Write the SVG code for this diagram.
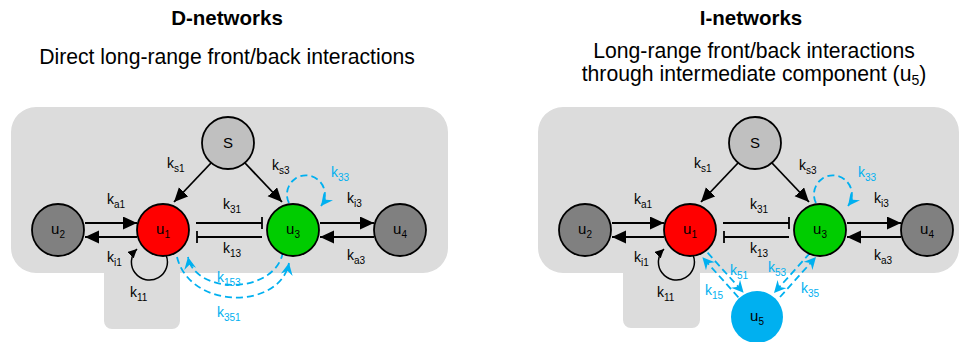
<svg xmlns="http://www.w3.org/2000/svg" width="961" height="342" viewBox="0 0 961 342">
<defs>
<style>
.bg{fill:#dcdcdc;stroke:none}
.node{stroke:#000;stroke-width:1.8}
.nl{font-family:"Liberation Sans",Arial,sans-serif;font-size:15px;fill:#000;text-anchor:middle}
.lbl{font-family:"Liberation Sans",Arial,sans-serif;font-size:14px;fill:#000}
.blbl{font-family:"Liberation Sans",Arial,sans-serif;font-size:14px;fill:#00b0f0}
.title{font-family:"Liberation Sans",Arial,sans-serif;font-size:20.5px;font-weight:bold;fill:#000;text-anchor:middle}
.sub{font-family:"Liberation Sans",Arial,sans-serif;font-size:21.2px;fill:#000;text-anchor:middle}
.e{stroke:#000;stroke-width:1.8;fill:none}
.ea{stroke:#000;stroke-width:1.8;fill:none;marker-end:url(#ah)}
.el{stroke:#000;stroke-width:1.5;fill:none;marker-end:url(#ahs)}
.eb{stroke:#00b0f0;stroke-width:1.8;fill:none;stroke-dasharray:7 4;marker-end:url(#bh)}
</style>
<marker id="ah" markerUnits="userSpaceOnUse" markerWidth="15" markerHeight="14" refX="14" refY="6.5" orient="auto"><path d="M0,0 L14,6.5 L0,13 z" fill="#000"/></marker>
<marker id="ahs" markerUnits="userSpaceOnUse" markerWidth="10" markerHeight="10" refX="9" refY="4.5" orient="auto"><path d="M0,0 L9,4.5 L0,9 z" fill="#000"/></marker>
<marker id="bh" markerUnits="userSpaceOnUse" markerWidth="13" markerHeight="13" refX="12" refY="6" orient="auto"><path d="M0,0 L12,6 L0,12 L4,6 z" fill="#00b0f0"/></marker>
</defs>

<!-- titles -->
<text class="title" x="227" y="25">D-networks</text>
<text class="sub" x="227" y="64">Direct long-range front/back interactions</text>
<text class="title" x="751" y="25">I-networks</text>
<text class="sub" x="754" y="58">Long-range front/back interactions</text>
<text class="sub" x="754" y="81">through intermediate component (u<tspan font-size="14" dy="4">5</tspan><tspan dy="-4">)</tspan></text>

<!-- backgrounds -->
<path class="bg" d="M36,107 H423 A25,25 0 0 1 448,132 V248 A25,25 0 0 1 423,273 H180 V321 A8,8 0 0 1 172,329 H112 A8,8 0 0 1 104,321 V273 H36 A25,25 0 0 1 11,248 V132 A25,25 0 0 1 36,107 Z"/>
<path class="bg" d="M563,107 H934 A25,25 0 0 1 959,132 V248 A25,25 0 0 1 934,273 H700 V320 A8,8 0 0 1 692,328 H631 A8,8 0 0 1 623,320 V273 H563 A25,25 0 0 1 538,248 V132 A25,25 0 0 1 563,107 Z"/>

<!-- LEFT PANEL -->
<g id="D-network">
<g id="d-connectors">
<line class="ea" x1="85" y1="223" x2="137" y2="223"/>
<line class="ea" x1="137" y1="237" x2="85" y2="237"/>
<line class="ea" x1="320" y1="223" x2="374" y2="223"/>
<line class="ea" x1="374" y1="237" x2="320" y2="237"/>
<line class="ea" x1="211" y1="163" x2="174" y2="202"/>
<line class="ea" x1="245" y1="163" x2="282" y2="202"/>
<line class="e" x1="196" y1="223" x2="262" y2="223"/>
<line class="e" x1="262" y1="217" x2="262" y2="229"/>
<line class="e" x1="262" y1="237" x2="197" y2="237"/>
<line class="e" x1="197" y1="231" x2="197" y2="243"/>
<path class="el" d="M166,255 A18,18 0 1 1 137,249"/>
<path class="eb" d="M289,203 A19,19 0 1 1 321,206"/>
<path class="eb" d="M177,257 C190,310 280,310 289,263"/>
<path class="eb" d="M283,252 C275,295 195,295 188,257"/>
</g>
<g id="d-labels">
<text class="lbl" x="107" y="204">k<tspan font-size="10" dy="4">a1</tspan></text>
<text class="lbl" x="167" y="168">k<tspan font-size="10" dy="4">s1</tspan></text>
<text class="lbl" x="107" y="262">k<tspan font-size="10" dy="4">i1</tspan></text>
<text class="lbl" x="130" y="297">k<tspan font-size="10" dy="4">11</tspan></text>
<text class="lbl" x="223" y="209">k<tspan font-size="10" dy="4">31</tspan></text>
<text class="lbl" x="223" y="253">k<tspan font-size="10" dy="4">13</tspan></text>
<text class="lbl" x="272" y="170">k<tspan font-size="10" dy="4">s3</tspan></text>
<text class="blbl" x="331" y="177">k<tspan font-size="10" dy="4">33</tspan></text>
<text class="lbl" x="347" y="203">k<tspan font-size="10" dy="4">i3</tspan></text>
<text class="lbl" x="347" y="260">k<tspan font-size="10" dy="4">a3</tspan></text>
<text class="blbl" x="217" y="282">k<tspan font-size="10" dy="4">153</tspan></text>
<text class="blbl" x="217" y="317">k<tspan font-size="10" dy="4">351</tspan></text>
</g>
<g id="d-S"><circle class="node" cx="228" cy="143" r="26" fill="#c0c0c0"/><text class="nl" x="228" y="148">S</text></g>
<g id="d-u2"><circle class="node" cx="58" cy="230" r="26" fill="#808080"/><text class="nl" x="58" y="234">u<tspan font-size="10" dy="4">2</tspan></text></g>
<g id="d-u1"><circle class="node" cx="163" cy="230" r="26" fill="#ff0000"/><text class="nl" x="163" y="234">u<tspan font-size="10" dy="4">1</tspan></text></g>
<g id="d-u3"><circle class="node" cx="293" cy="230" r="26" fill="#00cc00"/><text class="nl" x="293" y="234">u<tspan font-size="10" dy="4">3</tspan></text></g>
<g id="d-u4"><circle class="node" cx="400" cy="230" r="26" fill="#808080"/><text class="nl" x="400" y="234">u<tspan font-size="10" dy="4">4</tspan></text></g>
</g>

<!-- RIGHT PANEL -->
<g id="I-network" transform="translate(527,0)">
<g id="i-connectors">
<line class="ea" x1="85" y1="223" x2="137" y2="223"/>
<line class="ea" x1="137" y1="237" x2="85" y2="237"/>
<line class="ea" x1="320" y1="223" x2="374" y2="223"/>
<line class="ea" x1="374" y1="237" x2="320" y2="237"/>
<line class="ea" x1="211" y1="163" x2="174" y2="202"/>
<line class="ea" x1="245" y1="163" x2="282" y2="202"/>
<line class="e" x1="196" y1="223" x2="262" y2="223"/>
<line class="e" x1="262" y1="217" x2="262" y2="229"/>
<line class="e" x1="262" y1="237" x2="197" y2="237"/>
<line class="e" x1="197" y1="231" x2="197" y2="243"/>
<path class="el" d="M166,255 A18,18 0 1 1 137,249"/>
<path class="eb" d="M289,203 A19,19 0 1 1 321,206"/>
<line class="eb" x1="180.6" y1="252.7" x2="216.6" y2="292.7"/>
<line class="eb" x1="211.4" y1="297.3" x2="175.4" y2="257.3"/>
<line class="eb" x1="283" y1="253" x2="247" y2="293"/>
<line class="eb" x1="253" y1="297" x2="289" y2="257"/>
</g>
<g id="i-labels">
<text class="lbl" x="107" y="204">k<tspan font-size="10" dy="4">a1</tspan></text>
<text class="lbl" x="167" y="168">k<tspan font-size="10" dy="4">s1</tspan></text>
<text class="lbl" x="107" y="262">k<tspan font-size="10" dy="4">i1</tspan></text>
<text class="lbl" x="130" y="297">k<tspan font-size="10" dy="4">11</tspan></text>
<text class="lbl" x="223" y="209">k<tspan font-size="10" dy="4">31</tspan></text>
<text class="lbl" x="223" y="253">k<tspan font-size="10" dy="4">13</tspan></text>
<text class="lbl" x="272" y="170">k<tspan font-size="10" dy="4">s3</tspan></text>
<text class="blbl" x="331" y="177">k<tspan font-size="10" dy="4">33</tspan></text>
<text class="lbl" x="347" y="203">k<tspan font-size="10" dy="4">i3</tspan></text>
<text class="lbl" x="347" y="260">k<tspan font-size="10" dy="4">a3</tspan></text>
<text class="blbl" x="203" y="275">k<tspan font-size="10" dy="4">51</tspan></text>
<text class="blbl" x="178" y="295">k<tspan font-size="10" dy="4">15</tspan></text>
<text class="blbl" x="241" y="272">k<tspan font-size="10" dy="4">53</tspan></text>
<text class="blbl" x="274" y="293">k<tspan font-size="10" dy="4">35</tspan></text>
</g>
<g id="i-S"><circle class="node" cx="228" cy="143" r="26" fill="#c0c0c0"/><text class="nl" x="228" y="148">S</text></g>
<g id="i-u2"><circle class="node" cx="58" cy="230" r="26" fill="#808080"/><text class="nl" x="58" y="234">u<tspan font-size="10" dy="4">2</tspan></text></g>
<g id="i-u1"><circle class="node" cx="163" cy="230" r="26" fill="#ff0000"/><text class="nl" x="163" y="234">u<tspan font-size="10" dy="4">1</tspan></text></g>
<g id="i-u3"><circle class="node" cx="293" cy="230" r="26" fill="#00cc00"/><text class="nl" x="293" y="234">u<tspan font-size="10" dy="4">3</tspan></text></g>
<g id="i-u4"><circle class="node" cx="400" cy="230" r="26" fill="#808080"/><text class="nl" x="400" y="234">u<tspan font-size="10" dy="4">4</tspan></text></g>
<g id="i-u5"><circle cx="230" cy="317" r="26" fill="#00b0f0"/><text class="nl" x="230" y="321">u<tspan font-size="10" dy="4">5</tspan></text></g>
</g>
</svg>
